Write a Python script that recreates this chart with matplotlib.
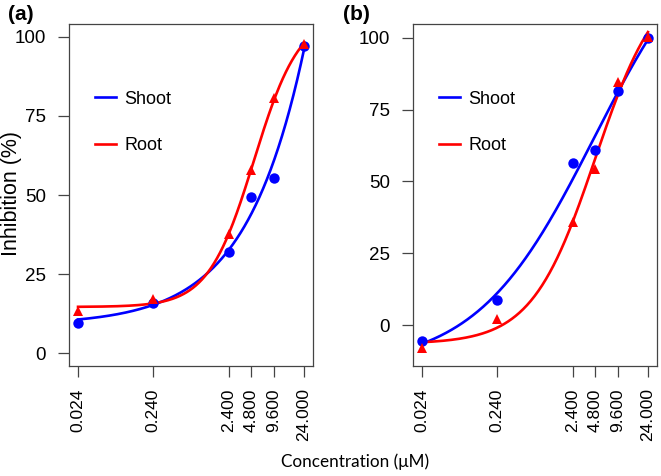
import numpy as np
import matplotlib
matplotlib.use("Agg")
import matplotlib.pyplot as plt
from matplotlib.lines import Line2D

plt.rcParams['font.family'] = ['Liberation Sans', 'DejaVu Sans']

# concentrations (uM)
conc = [0.024, 0.24, 2.4, 4.8, 9.6, 24.0]
conc_labels = ["0.024", "0.240", "2.400", "4.800", "9.600", "24.000"]

# panel (a)
shoot_a = [9.5, 16.0, 31.9, 49.5, 55.5, 97.1]
root_a = [13.5, 17.1, 37.6, 57.9, 80.5, 97.7]
# panel (b)
shoot_b = [-5.5, 8.9, 56.3, 60.9, 81.4, 100.1]
root_b = [-8.1, 2.0, 36.0, 54.5, 84.7, 100.4]

yticks = [0, 25, 50, 75, 100]


def fit_ll4(x, y):
    # four-parameter log-logistic, grid over (e, h), linear LS for bottom/top
    lx = np.log(np.asarray(x))
    y = np.asarray(y)
    le = np.linspace(np.log(0.01), np.log(1e4), 500)
    hh = np.linspace(0.1, 8, 400)
    LE, H = np.meshgrid(le, hh, indexing="ij")
    s = 1.0 / (1.0 + np.exp(-H[..., None] * (lx - LE[..., None])))
    sm = s.mean(-1, keepdims=True)
    ym = y.mean()
    k = ((s - sm) * (y - ym)).sum(-1) / ((s - sm) ** 2).sum(-1)
    c = ym - k * sm[..., 0]
    sse = ((c[..., None] + k[..., None] * s - y) ** 2).sum(-1)
    i, j = np.unravel_index(np.argmin(sse), sse.shape)
    return c[i, j], k[i, j], LE[i, j], H[i, j]


def curve(x, p):
    c, k, le, h = p
    return c + k / (1.0 + np.exp(-h * (np.log(x) - le)))


fig = plt.figure(figsize=(6.61, 4.76), dpi=100)
axa = fig.add_axes([69 / 661, 110 / 476, 244 / 661, 342 / 476])
axb = fig.add_axes([413 / 661, 110 / 476, 244 / 661, 342 / 476])

xs = np.logspace(np.log10(conc[0]), np.log10(conc[-1]), 300)
pad = 10 ** 0.12

panels = [(axa, shoot_a, root_a, (-4, 104), "(a)", 8),
          (axb, shoot_b, root_b, (-14.2, 104.8), "(b)", 343)]
for ax, sh, rt, ylim, tag, tagx in panels:
    ax.set_xscale("log")
    ax.plot(xs, curve(xs, fit_ll4(conc, sh)), color="#0000ff", lw=1.9, zorder=2)
    ax.plot(xs, curve(xs, fit_ll4(conc, rt)), color="#ff0000", lw=1.9, zorder=2)
    ax.plot(conc, sh, "o", color="#0000ff", ms=7.5, mew=0, zorder=3)
    ax.plot(conc, rt, "^", color="#ff0000", ms=7.5, mew=0, zorder=3)
    ax.set_xlim(conc[0] / pad, conc[-1] * pad)
    ax.set_ylim(*ylim)
    ax.set_xticks(conc)
    ax.set_xticklabels(conc_labels, rotation=90, fontsize=12.5)
    ax.minorticks_off()
    ax.set_yticks(yticks)
    ax.set_yticklabels([str(v) for v in yticks], fontsize=13.5)
    ax.tick_params(axis="both", direction="out", length=8, width=0.9,
                   color="#444444", pad=8)
    ax.tick_params(axis="y", pad=8.5)
    for sp in ax.spines.values():
        sp.set_color("#444444")
        sp.set_linewidth(0.9)
    handles = [Line2D([], [], color="#0000ff", lw=1.9),
               Line2D([], [], color="#ff0000", lw=1.9)]
    ax.legend(handles, ["Shoot", "Root"], loc="upper left",
              bbox_to_anchor=(0.105, 0.805), frameon=False, fontsize=13,
              handlelength=1.2, handletextpad=0.45, labelspacing=1.65,
              borderpad=0, borderaxespad=0)
    fig.text(tagx / 661, 1 - 5 / 476, tag, fontsize=15, fontweight="bold",
             ha="left", va="top")

fig.text(12 / 661, 1 - 194 / 476, "Inhibition (%)", rotation=90,
         fontsize=15.5, ha="center", va="center")
fig.text(355 / 661, 14 / 476, "Concentration (\u03bcM)", ha="center",
         va="center", fontsize=12.3, family=["Lato", "DejaVu Sans"])

fig.savefig("out.png", dpi=100)
